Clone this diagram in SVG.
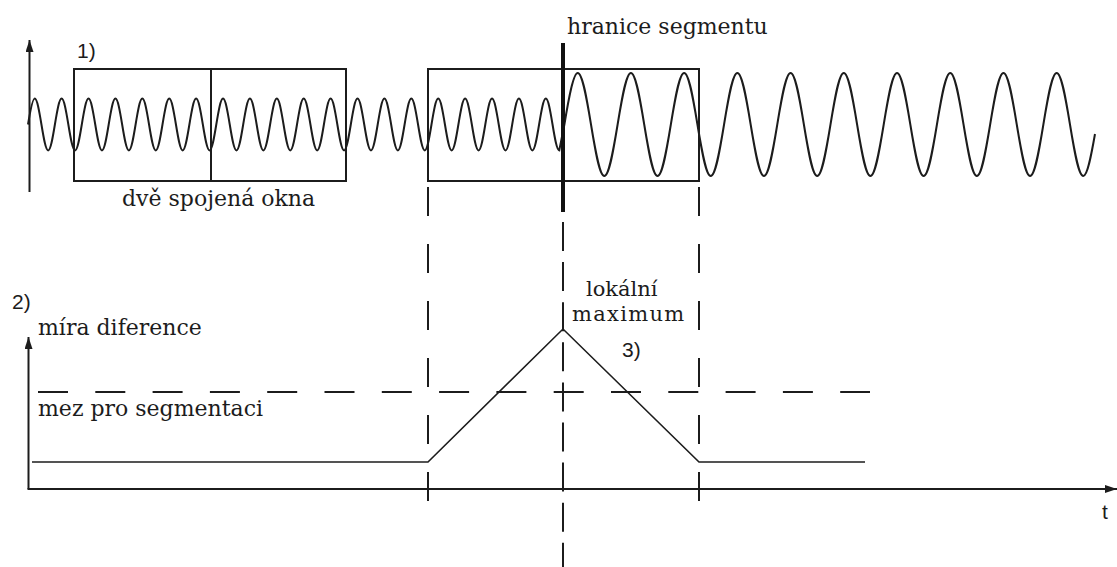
<svg xmlns="http://www.w3.org/2000/svg" width="1117" height="567" viewBox="0 0 1117 567">
<style>
.ln{fill:none;stroke:#1c1c1c;stroke-width:2}
.thin{fill:none;stroke:#1c1c1c;stroke-width:1.6}
.dash{fill:none;stroke:#1c1c1c;stroke-width:2}
.lbl{font-family:"DejaVu Serif","Liberation Serif",serif;font-size:22px;fill:#1c1c1c}
.num{font-family:"Liberation Sans","DejaVu Sans",sans-serif;font-size:21px;fill:#1c1c1c}
</style>
<defs>
<marker id="arrow" markerUnits="userSpaceOnUse" markerWidth="12" markerHeight="8" refX="12" refY="4" orient="auto">
<path d="M0,0 L12,4 L0,8 z" fill="#1c1c1c"/>
</marker>
</defs>
<rect width="1117" height="567" fill="#ffffff"/>

<g id="axes">
<line class="ln" x1="29.5" y1="192" x2="29.5" y2="40" marker-end="url(#arrow)"/>
<line class="ln" x1="28.5" y1="489" x2="28.5" y2="337" marker-end="url(#arrow)"/>
<line class="ln" x1="27.5" y1="489" x2="1117" y2="489" marker-end="url(#arrow)"/>
</g>

<g id="signal">
<path class="ln" d="M28,124.5 c2.19,-13.3 4.54,-26 6.72,-26 c4.89,0 8.56,52 13.45,52
s8.56,-52 13.45,-52 s8.56,52 13.45,52 s8.56,-52 13.45,-52 s8.56,52 13.45,52
s8.56,-52 13.45,-52 s8.56,52 13.45,52 s8.56,-52 13.45,-52 s8.56,52 13.45,52
s8.56,-52 13.45,-52 s8.56,52 13.45,52 s8.56,-52 13.45,-52 s8.56,52 13.45,52
s8.56,-52 13.45,-52 s8.56,52 13.45,52 s8.56,-52 13.45,-52 s8.56,52 13.45,52
s8.56,-52 13.45,-52 s8.56,52 13.45,52 s8.56,-52 13.45,-52 s8.56,52 13.45,52
s8.56,-52 13.45,-52 s8.56,52 13.45,52 s8.56,-52 13.45,-52 s8.56,52 13.45,52
s8.56,-52 13.45,-52 s8.56,52 13.45,52 s8.56,-52 13.45,-52 s8.56,52 13.45,52
s8.56,-52 13.45,-52 s8.56,52 13.45,52 s8.56,-52 13.45,-52 s8.56,52 13.45,52
s8.56,-52 13.45,-52 s8.56,52 13.45,52 s8.56,-52 13.45,-52 s8.56,52 13.45,52
s8.56,-52 13.45,-52 s8.56,52 13.45,52
L564.4,124.5 c4.34,-26.4 8.99,-51.5 13.3,-51.5 c9.67,0 16.94,103 26.61,103
s16.94,-103 26.61,-103 s16.94,103 26.61,103 s16.94,-103 26.61,-103 s16.94,103 26.61,103
s16.94,-103 26.61,-103 s16.94,103 26.61,103 s16.94,-103 26.61,-103 s16.94,103 26.61,103
s16.94,-103 26.61,-103 s16.94,103 26.61,103 s16.94,-103 26.61,-103 s16.94,103 26.61,103
s16.94,-103 26.61,-103 s16.94,103 26.61,103 s16.94,-103 26.61,-103 s16.94,103 26.61,103
s16.94,-103 26.61,-103 s16.94,103 26.61,103
c4.2,0 8.2,-22 11.7,-42"/>
</g>

<g id="window-pair">
<rect class="ln" x="74" y="69" width="272" height="112"/>
<line class="ln" x1="211" y1="69" x2="211" y2="181"/>
</g>

<g id="window-boundary">
<rect class="ln" x="428" y="69" width="271" height="112"/>
</g>

<g id="segment-boundary">
<line fill="none" stroke="#111" stroke-width="4" x1="563" y1="43" x2="563" y2="212"/>
</g>

<g id="connectors">
<line class="dash" x1="428" y1="187" x2="428" y2="501" stroke-dasharray="29 28"/>
<line class="dash" x1="699" y1="187" x2="699" y2="501" stroke-dasharray="29 28"/>
<line class="dash" x1="563" y1="222" x2="563" y2="567" stroke-dasharray="29 11.1"/>
<line class="dash" x1="38" y1="392" x2="870" y2="392" stroke-dasharray="30 27.3"/>
</g>

<g id="difference-curve">
<polyline class="thin" points="32,462 428,462 563,329 699,462 865,462"/>
</g>

<g id="labels">
<text class="num" x="77" y="58">1)</text>
<text class="lbl" x="567" y="34">hranice segmentu</text>
<text class="lbl" x="122" y="206">dvě spojená okna</text>
<text class="num" x="12" y="309">2)</text>
<text class="lbl" x="38" y="335">míra diference</text>
<text class="lbl" x="38" y="416">mez pro segmentaci</text>
<text class="lbl" style="font-size:21px"><tspan x="586" y="296">lokální</tspan><tspan x="572" y="321" letter-spacing="1.3">maximum</tspan></text>
<text class="num" x="622" y="357">3)</text>
<text class="num" x="1102" y="519">t</text>
</g>
</svg>
